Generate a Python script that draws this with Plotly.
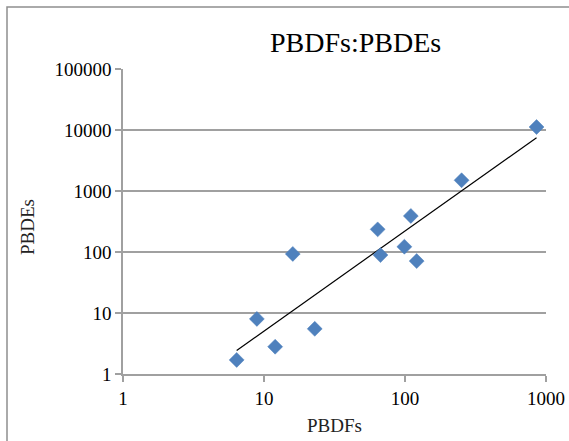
import numpy as np
import plotly.graph_objects as go

# Data
pbdfs = [6.4, 8.9, 12.0, 16.0, 22.9, 64.0, 67.0, 99.0, 110.0, 121.0, 252.0, 857.0]
pbdes = [1.7, 8.0, 2.8, 93.0, 5.5, 235.0, 89.0, 122.0, 390.0, 71.0, 1500.0, 11200.0]

x_ticks = [1, 10, 100, 1000]
x_tick_labels = ["1", "10", "100", "1000"]
y_ticks = [1, 10, 100, 1000, 10000, 100000]
y_tick_labels = ["1", "10", "100", "1000", "10000", "100000"]

title_text = "PBDFs:PBDEs"
x_title = "PBDFs"
y_title = "PBDEs"

# Power trendline (least squares in log-log space, like Excel's power trendline)
lx = np.log10(pbdfs)
ly = np.log10(pbdes)
slope, intercept = np.polyfit(lx, ly, 1)
trend_x = [min(pbdfs), max(pbdfs)]
trend_y = [10 ** (intercept + slope * np.log10(v)) for v in trend_x]

W, H = 569, 441
L, R, T, B = 123, 546, 69, 374

def px(x):
    return (x - L) / (R - L)

def py(y):
    return (B - y) / (B - T)

FONT = "Liberation Serif, Times New Roman, serif"
GRID = "#a0a0a0"
FRAME = "#8f8f8f"

fig = go.Figure()
fig.add_trace(go.Scatter(
    x=trend_x, y=trend_y, mode="lines",
    line=dict(color="black", width=1.2),
    showlegend=False, hoverinfo="skip",
))
fig.add_trace(go.Scatter(
    x=pbdfs, y=pbdes, mode="markers",
    marker=dict(symbol="diamond", size=11.5, color="#4F81BD",
                line=dict(color="#4F81BD", width=0.5)),
    showlegend=False,
))

fig.update_layout(
    width=W, height=H,
    margin=dict(l=L, r=W - R, t=T, b=H - B, pad=0, autoexpand=False),
    paper_bgcolor="white", plot_bgcolor="white",
    font=dict(family=FONT, size=19, color="black"),
    showlegend=False,
    xaxis=dict(
        type="log", range=[0, 3], automargin=False,
        tickmode="array", tickvals=x_ticks, ticktext=x_tick_labels,
        showgrid=False, zeroline=False,
        showline=True, linecolor=GRID, linewidth=1.5,
        ticks="outside", ticklen=6, tickwidth=1.5, tickcolor=GRID,
        tickfont=dict(family=FONT, size=19, color="black"),
    ),
    yaxis=dict(
        type="log", range=[0, 5], automargin=False,
        tickmode="array", tickvals=y_ticks, ticktext=y_tick_labels,
        showgrid=True, gridcolor=GRID, gridwidth=1.5, zeroline=False,
        showline=True, linecolor=GRID, linewidth=1.5,
        ticks="outside", ticklen=6, tickwidth=1.5, tickcolor=GRID,
        tickfont=dict(family=FONT, size=19, color="black"),
    ),
    annotations=[
        dict(text=title_text, xref="paper", yref="paper",
             x=px(355), y=py(43), xanchor="center", yanchor="middle",
             showarrow=False, font=dict(family=FONT, size=28, color="black")),
        dict(text=x_title, xref="paper", yref="paper",
             x=px(334), y=py(425), xanchor="center", yanchor="middle",
             showarrow=False, font=dict(family=FONT, size=19, color="#222")),
        dict(text=y_title, xref="paper", yref="paper", textangle=-90,
             x=px(27), y=py(227), xanchor="center", yanchor="middle",
             showarrow=False, font=dict(family=FONT, size=19, color="#222")),
    ],
    shapes=[
        dict(type="rect", xref="paper", yref="paper",
             x0=px(7), x1=px(620), y0=py(500), y1=py(7),
             line=dict(color=FRAME, width=1.5), fillcolor="rgba(0,0,0,0)",
             layer="below"),
    ],
)

fig.write_html("out.html",
               config={"displayModeBar": False},
               post_script="document.body.style.margin='0px';document.body.style.overflow='hidden';")
